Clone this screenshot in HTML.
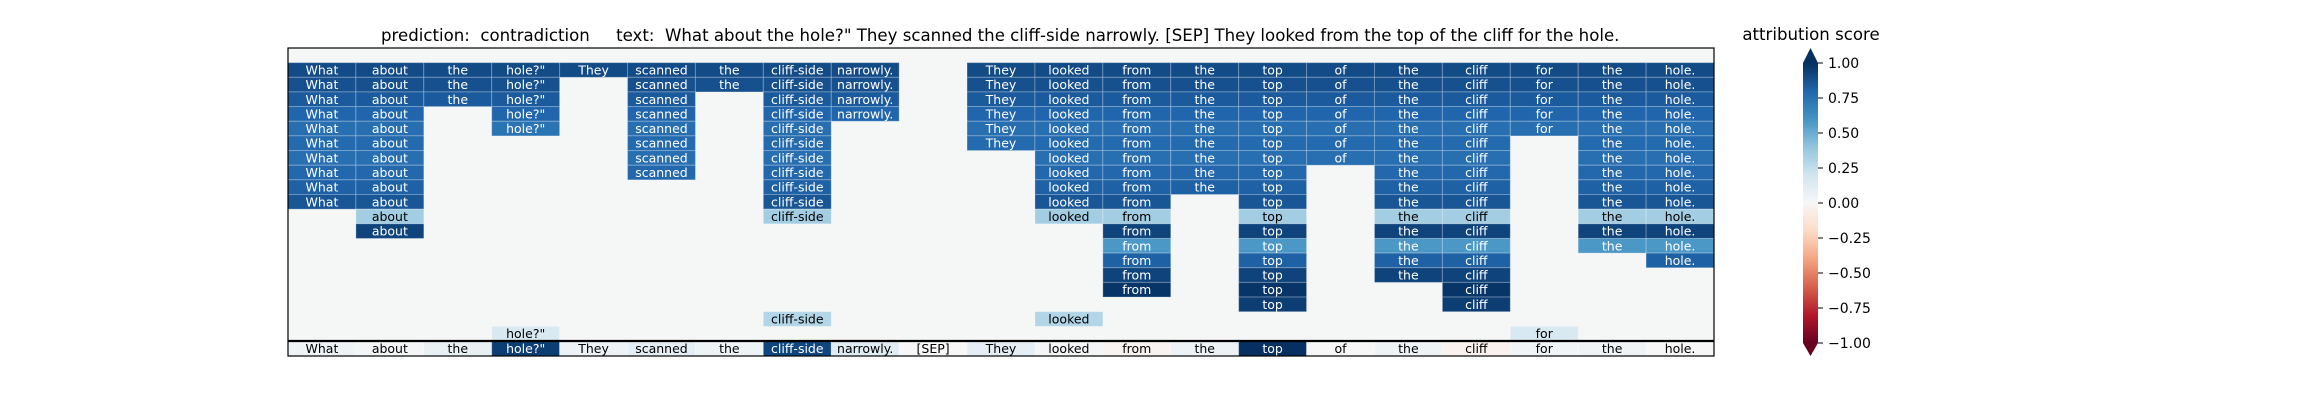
<!DOCTYPE html>
<html><head><meta charset="utf-8"><style>
html,body{margin:0;padding:0;background:#fff;}
svg text{font-family:"DejaVu Sans","Liberation Sans",sans-serif;}
</style></head><body>
<svg id="chart" width="2300" height="400" xmlns="http://www.w3.org/2000/svg">
<defs>
<linearGradient id="cbgrad" x1="0" y1="1" x2="0" y2="0">
<stop offset="0" stop-color="#67001f"/><stop offset="0.1" stop-color="#b2182b"/><stop offset="0.2" stop-color="#d6604d"/><stop offset="0.3" stop-color="#f4a582"/><stop offset="0.4" stop-color="#fddbc7"/><stop offset="0.5" stop-color="#f7f7f7"/><stop offset="0.6" stop-color="#d1e5f0"/><stop offset="0.7" stop-color="#92c5de"/><stop offset="0.8" stop-color="#4393c3"/><stop offset="0.9" stop-color="#2166ac"/><stop offset="1" stop-color="#053061"/>
</linearGradient>
</defs>
<text x="381" y="41" font-size="16.6" xml:space="preserve">prediction:  contradiction     text:  What about the hole?" They scanned the cliff-side narrowly. [SEP] They looked from the top of the cliff for the hole.</text>
<g id="heat"></g>
<g id="cbar"></g>
</svg>
<script>
const tokens = ["What","about","the","hole?\"","They","scanned","the","cliff-side","narrowly.","[SEP]","They","looked","from","the","top","of","the","cliff","for","the","hole."];
const inputScores = [0.05,0.02,0.08,0.95,0.06,0.1,0.05,0.92,0.12,0.0,0.1,0.02,-0.03,0.06,1.0,0.0,0.05,-0.04,0.03,0.04,0.0];
// rows 1..19 of the evidence matrix; n = empty
const n = null;
const matrix = [
 [0.90,0.90,0.90,0.90,0.90,0.90,0.90,0.90,0.90,n,0.90,0.90,0.90,0.90,0.90,0.90,0.90,0.90,0.90,0.90,0.90],
 [0.88,0.88,0.88,0.88,n,0.88,0.88,0.88,0.88,n,0.88,0.88,0.88,0.88,0.88,0.88,0.88,0.88,0.88,0.88,0.88],
 [0.84,0.84,0.84,0.84,n,0.84,n,0.84,0.84,n,0.84,0.84,0.84,0.84,0.84,0.84,0.84,0.84,0.84,0.84,0.84],
 [0.80,0.80,n,0.80,n,0.80,n,0.80,0.80,n,0.80,0.80,0.80,0.80,0.80,0.80,0.80,0.80,0.80,0.80,0.80],
 [0.76,0.76,n,0.74,n,0.76,n,0.76,n,n,0.76,0.76,0.76,0.76,0.76,0.76,0.76,0.76,0.76,0.76,0.76],
 [0.78,0.78,n,n,n,0.78,n,0.78,n,n,0.78,0.78,0.78,0.78,0.78,0.78,0.78,0.78,n,0.78,0.78],
 [0.76,0.76,n,n,n,0.76,n,0.76,n,n,n,0.76,0.76,0.76,0.76,0.76,0.76,0.76,n,0.76,0.76],
 [0.79,0.79,n,n,n,0.79,n,0.79,n,n,n,0.79,0.79,0.79,0.79,n,0.79,0.79,n,0.79,0.79],
 [0.82,0.82,n,n,n,n,n,0.82,n,n,n,0.82,0.82,0.82,0.82,n,0.82,0.82,n,0.82,0.82],
 [0.86,0.86,n,n,n,n,n,0.86,n,n,n,0.86,0.86,n,0.86,n,0.86,0.86,n,0.86,0.86],
 [n,0.35,n,n,n,n,n,0.35,n,n,n,0.35,0.35,n,0.35,n,0.35,0.35,n,0.35,0.35],
 [n,0.93,n,n,n,n,n,n,n,n,n,n,0.93,n,0.93,n,0.93,0.93,n,0.93,0.93],
 [n,n,n,n,n,n,n,n,n,n,n,n,0.58,n,0.58,n,0.58,0.58,n,0.58,0.58],
 [n,n,n,n,n,n,n,n,n,n,n,n,0.82,n,0.82,n,0.82,0.82,n,n,0.82],
 [n,n,n,n,n,n,n,n,n,n,n,n,0.93,n,0.93,n,0.93,0.93,n,n,n],
 [n,n,n,n,n,n,n,n,n,n,n,n,0.98,n,0.98,n,n,0.98,n,n,n],
 [n,n,n,n,n,n,n,n,n,n,n,n,n,n,0.95,n,n,0.95,n,n,n],
 [n,n,n,n,n,n,n,0.30,n,n,n,0.30,n,n,n,n,n,n,n,n,n],
 [n,n,n,0.16,n,n,n,n,n,n,n,n,n,n,n,n,n,n,0.16,n,n]
];
const cbTicks = [1.0,0.75,0.5,0.25,0.0,-0.25,-0.5,-0.75,-1.0];
const cbLabels = ["1.00","0.75","0.50","0.25","0.00","\u22120.25","\u22120.50","\u22120.75","\u22121.00"];

const NS = "http://www.w3.org/2000/svg";
const stops = [[103,0,31],[178,24,43],[214,96,77],[244,165,130],[253,219,199],[247,247,247],[209,229,240],[146,197,222],[67,147,195],[33,102,172],[5,48,97]];
function rdbu(v){
  v = Math.max(-1, Math.min(1, v));
  const t = (v + 1) / 2 * 10, i = Math.min(9, Math.floor(t)), f = t - i;
  const a = stops[i], b = stops[i+1];
  return "rgb(" + a.map((c,k)=>Math.round(c + (b[k]-c)*f)).join(",") + ")";
}
const X0 = 288, X1 = 1714, Y0 = 48, YS = 341, YB = 356;
const nRows = matrix.length + 1;
const cw = (X1 - X0) / tokens.length;
const rh = (YS - Y0) / nRows;
const xAt = c => X0 + c * cw;
const yAt = r => Y0 + r * rh;
function mk(tag, attrs, parent){ const e = document.createElementNS(NS, tag); for (const k in attrs) e.setAttribute(k, attrs[k]); parent.appendChild(e); return e; }

const heat = document.getElementById("heat");
const bg = mk("rect", {x:X0, y:Y0, width:X1-X0, height:YS-Y0, fill:"rgb(245,247,247)"}, heat);



function cell(c, y, h, v, label, name){
  const g = mk("g", {}, heat);
  
  
  mk("rect", {x:xAt(c), y:y, width:cw, height:h, fill:rdbu(v), stroke:"rgba(255,255,255,0.25)", "stroke-width":1}, g);
  const t = mk("text", {x:xAt(c)+cw/2, y:y+h/2+4.5, "font-size":12.5, "text-anchor":"middle", fill: Math.abs(v) > 0.5 ? "#fff" : "#000"}, g);
  t.textContent = label;
}
matrix.forEach((row, r) => row.forEach((v, c) => {
  if (v === null) return;
  cell(c, yAt(r+1), rh, v, tokens[c], "evidence-cell");
}));
inputScores.forEach((v, c) => cell(c, YS, YB-YS, v, tokens[c], "input-token-cell"));

const sep = mk("line", {x1:X0, x2:X1, y1:YS, y2:YS, stroke:"#000", "stroke-width":2.2}, heat);


const frame = mk("rect", {x:X0, y:Y0, width:X1-X0, height:YB-Y0, fill:"none", stroke:"#000", "stroke-width":1.2}, heat);



// colorbar
const cb = document.getElementById("cbar");
const CX0 = 1803, CX1 = 1818, CT = 63, CB = 343;
const cy = v => CB - (v + 1) / 2 * (CB - CT);
const bar = mk("rect", {x:CX0, y:CT, width:CX1-CX0, height:CB-CT, fill:"url(#cbgrad)"}, cb);


const up = mk("polygon", {points:`${CX0},${CT} ${(CX0+CX1)/2},48 ${CX1},${CT}`, fill:rdbu(1)}, cb);


const dn = mk("polygon", {points:`${CX0},${CB} ${(CX0+CX1)/2},356 ${CX1},${CB}`, fill:rdbu(-1)}, cb);


cbTicks.forEach((v, i) => {
  const y = cy(v);
  const tk = mk("line", {x1:CX1, x2:CX1+5, y1:y, y2:y, stroke:"#000", "stroke-width":1}, cb);
  
  
  const tl = mk("text", {x:CX1+10, y:y+5, "font-size":14, fill:"#000"}, cb);
  
  
  tl.textContent = cbLabels[i];
});
const ct = mk("text", {x:1811, y:40, "font-size":16.6, "text-anchor":"middle", fill:"#000"}, cb);


ct.textContent = "attribution score";
</script>
</body></html>
